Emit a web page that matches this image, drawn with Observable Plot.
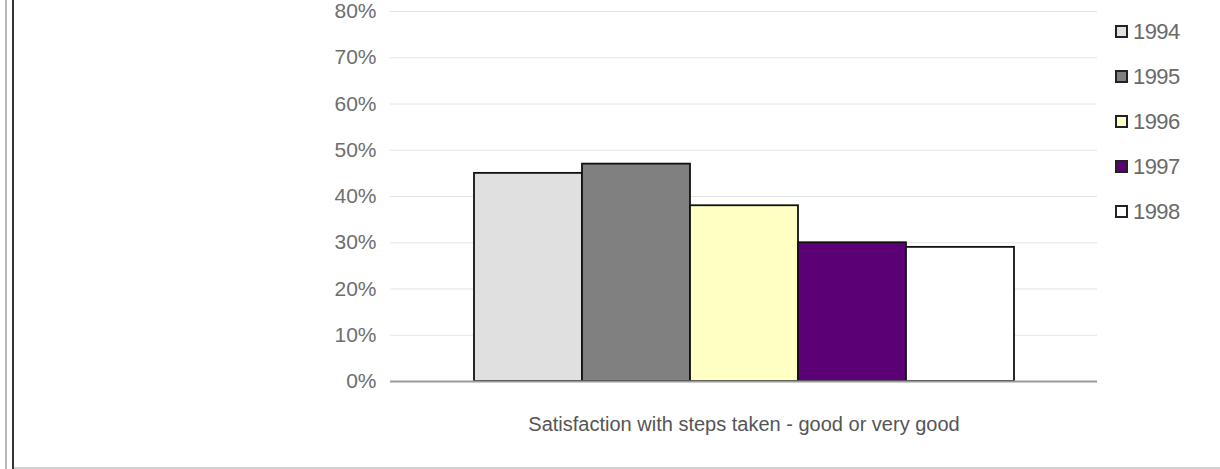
<!DOCTYPE html>
<html>
<head>
<meta charset="utf-8">
<script src="https://cdn.jsdelivr.net/npm/d3@7"></script>
<script src="https://cdn.jsdelivr.net/npm/@observablehq/plot@0.6"></script>
<style>
  html, body { margin: 0; padding: 0; background: #fff; }
  #wrap { position: relative; width: 1220px; height: 469px; overflow: hidden; font-family: "Liberation Sans", Arial, sans-serif; }
  #frameL1 { position: absolute; left: 5px; top: 0; width: 2px; height: 469px; background: #b8b8b8; }
  #frameL2 { position: absolute; left: 12px; top: 0; width: 2px; height: 469px; background: #333; }
  #frameB { position: absolute; left: 14px; top: 467px; width: 1206px; height: 2px; background: #d0d0d0; }
  #legend { position: absolute; left: 1115px; top: 9px; }
  .item { display: flex; align-items: center; height: 45px; }
  .sw { width: 9px; height: 9px; border: 2px solid #222; margin-right: 5px; }
  .lab { font-size: 22px; color: #6a6a6a; letter-spacing: -0.6px; }
  #chart svg { position: absolute; left: 0; top: 0; }
</style>
</head>
<body>
<div id="wrap">
  <div id="chart"></div>
  <div id="frameL1"></div>
  <div id="frameL2"></div>
  <div id="frameB"></div>
  <div id="legend"></div>
</div>
<script>
const category = ["Satisfaction with steps taken - good or very good"];
const years = ["1994", "1995", "1996", "1997", "1998"];
const values = [0.45, 0.47, 0.38, 0.30, 0.29];
const colors = ["#e0e0e0", "#808080", "#ffffc4", "#5c0075", "#ffffff"];
const yTicks = [0, 0.1, 0.2, 0.3, 0.4, 0.5, 0.6, 0.7, 0.8];

const data = years.map((y, i) => ({cat: category[0], year: y, value: values[i]}));

const plot = Plot.plot({
  width: 1220,
  height: 469,
  marginLeft: 390,
  marginRight: 123,
  marginTop: 11,
  marginBottom: 88,
  style: {fontFamily: "Liberation Sans, Arial, sans-serif", fontSize: "20px", color: "#666", background: "transparent"},
  fx: {domain: category, padding: 0, axis: null},
  x: {domain: years, axis: null, paddingInner: 0, paddingOuter: 0.761},
  y: {domain: [0, 0.8], axis: null},
  color: {domain: years, range: colors},
  marks: [
    Plot.gridY(yTicks, {stroke: "#e4e4e4", strokeOpacity: 1, strokeWidth: 1}),
    Plot.ruleX([0], {frameAnchor: "left", stroke: "#dcdcdc", strokeWidth: 1.5}),
    Plot.axisY(yTicks, {tickFormat: d3.format(".0%"), tickSize: 0, tickPadding: 14, label: null, fontSize: 21, fill: "#6e6e6e", letterSpacing: "-0.6px"}),
    Plot.axisFx({anchor: "bottom", tickSize: 0, tickPadding: 35, label: null, fontSize: 20, fill: "#555", letterSpacing: "-0.6px"}),
    Plot.barY(data, {fx: "cat", x: "year", y: "value", fill: "year", stroke: "#111", strokeWidth: 1.8}),
    Plot.ruleY([0], {stroke: "#999", strokeWidth: 2})
  ]
});
document.getElementById("chart").appendChild(plot);

const legend = d3.select("#legend");
years.forEach((y, i) => {
  const item = legend.append("div").attr("class", "item");
  item.append("div").attr("class", "sw").style("background", colors[i]);
  item.append("div").attr("class", "lab").text(y);
});
</script>
</body>
</html>
